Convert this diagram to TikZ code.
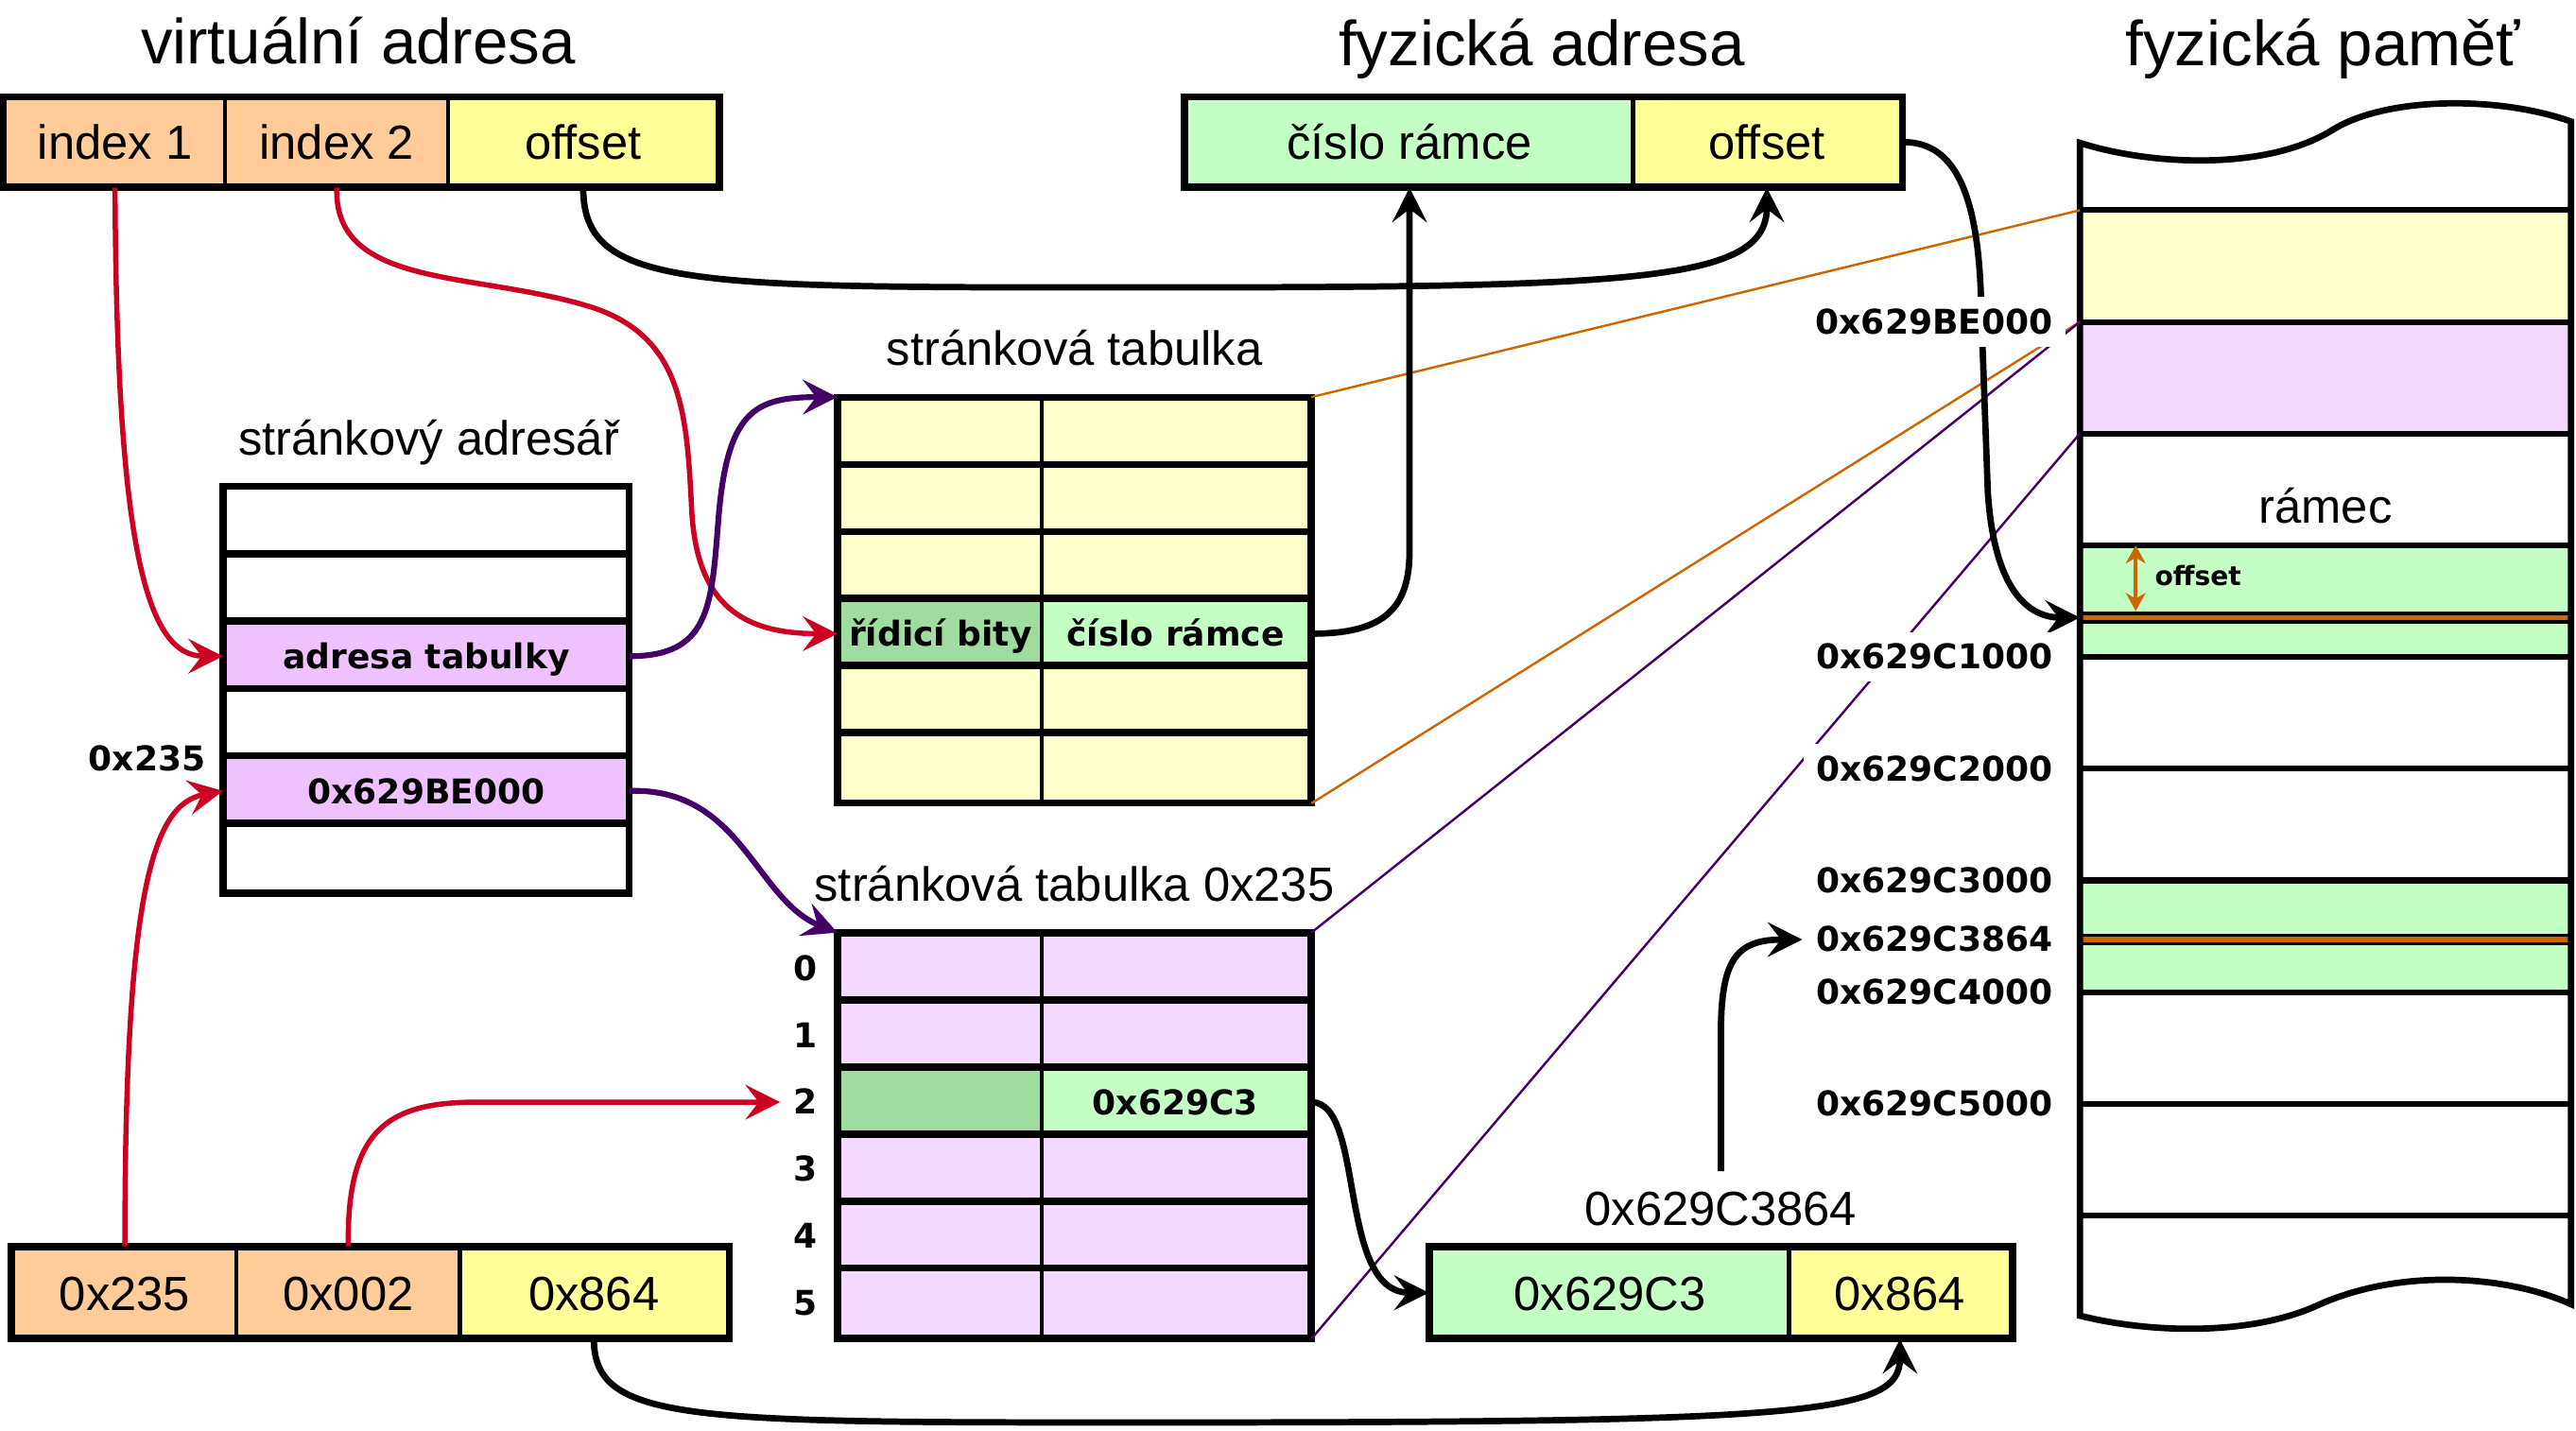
\documentclass[tikz,border=0pt]{standalone}
\usepackage{xcolor}
\usepackage{fontspec}
\setmainfont{Liberation Sans}
\newfontfamily\dvsans{DejaVu Sans}
\usetikzlibrary{arrows.meta}

\definecolor{peach}{HTML}{FFCC99}
\definecolor{lemon}{HTML}{FFFF99}
\definecolor{cream}{HTML}{FFFFCC}
\definecolor{lilac}{HTML}{F3D9FF}
\definecolor{orchid}{HTML}{EEC2FF}
\definecolor{mint}{HTML}{C4FFC4}
\definecolor{sage}{HTML}{A0DCA0}
\definecolor{crimson}{HTML}{CC0022}
\definecolor{plum}{HTML}{440066}
\definecolor{rust}{HTML}{CC6600}

\newcommand\titlefont{\fontsize{11}{13}\selectfont}
\newcommand\midfont{\fontsize{8.3}{10}\selectfont}
\newcommand\lblfont{\dvsans\bfseries\fontsize{5.9}{7}\selectfont}
\newcommand\smallbold{\dvsans\bfseries\fontsize{4.6}{5.5}\selectfont}

\tikzset{
	addrcell/.style={draw, line width=0.7pt, inner sep=0pt, minimum height=0.53cm, font=\midfont, text height=6pt, text depth=0pt},
	tabcell/.style={draw, line width=0.7pt, inner sep=0pt, minimum height=0.408cm, font=\lblfont, text height=4.4pt, text depth=0pt},
	boxframe/.style={line width=1.1pt},
	memline/.style={line width=1pt},
	lbl/.style={font=\lblfont, text height=4.2pt, text depth=0pt, inner sep=2.2pt},
	memlbl/.style={lbl, fill=white, anchor=east},
	ttl/.style={font=\midfont, anchor=base},
	bigttl/.style={font=\titlefont, anchor=base},
	stealthtip/.style={-{Stealth[length=2.1mm,width=2.1mm,inset=0.8mm]}},
	redarr/.style={stealthtip, crimson, line width=0.9pt},
	plumarr/.style={stealthtip, plum, line width=1pt},
	blkarr/.style={stealthtip, black, line width=1.1pt},
	thinline/.style={line width=0.4pt},
}

\begin{document}
\begin{tikzpicture}[x=0.01cm,y=-0.01cm]
	% Parameters
	\def\rowh{40.8}
	\def\dirh{41}
	\def\memL{1266}
	\def\memR{1565}
	\def\frh{68}
	\useasboundingbox (0,0) rectangle (1568,871);
	
	%titles
	\node[bigttl] (tVirt) at (218,39) {virtuální adresa};
	\node[bigttl] (tPhys) at (938.5,40) {fyzická adresa};
	\node[bigttl] (tMem) at (1414,40) {fyzická paměť};
	\node[ttl] (tDir) at (261,277) {stránkový adresář};
	\node[ttl] (tTab) at (654,222.5) {stránková tabulka};
	\node[ttl] (tTab2) at (654,548.5) {stránková tabulka 0x235};
	\node[ttl] (tFin) at (1047.5,745.8) {0x629C3864};
	
	%addresses
	\node[addrcell, fill=peach, minimum width=1.34cm] (idx1) at (70,86.5) {index 1};
	\node[addrcell, fill=peach, minimum width=1.36cm] (idx2) at (205,86.5) {index 2};
	\node[addrcell, fill=lemon, minimum width=1.64cm] (voff) at (355,86.5) {offset};
	\draw[boxframe] (idx1.north west) rectangle (voff.south east);
	
	\node[addrcell, fill=mint, minimum width=2.72cm] (pnum) at (858,86.5) {číslo rámce};
	\node[addrcell, fill=lemon, minimum width=1.63cm] (poff) at (1075.5,86.5) {offset};
	\draw[boxframe] (pnum.north west) rectangle (poff.south east);
	
	\node[addrcell, fill=peach, minimum width=1.36cm, minimum height=0.54cm] (b235) at (76,787) {0x235};
	\node[addrcell, fill=peach, minimum width=1.36cm, minimum height=0.54cm] (b002) at (212,787) {0x002};
	\node[addrcell, fill=lemon, minimum width=1.63cm, minimum height=0.54cm] (boff) at (361.5,787) {0x864};
	\draw[boxframe] (b235.north west) rectangle (boff.south east);
	
	\node[addrcell, fill=mint, minimum width=2.18cm, minimum height=0.54cm] (fnum) at (980,787) {0x629C3};
	\node[addrcell, fill=lemon, minimum width=1.35cm, minimum height=0.54cm] (foff) at (1156.5,787) {0x864};
	\draw[boxframe] (fnum.north west) rectangle (foff.south east);
	
	%directory
	\foreach \i in {0,1,3,5} {
		\node[tabcell, minimum width=2.45cm] (d\i) at (259.5,317.5+\dirh*\i) {};
	}
	\node[tabcell, fill=orchid, minimum width=2.45cm] (d2) at (259.5,317.5+2*\dirh) {adresa tabulky};
	\node[tabcell, fill=orchid, minimum width=2.45cm] (d4) at (259.5,317.5+4*\dirh) {0x629BE000};
	\foreach \i in {1,...,5}
		\draw[boxframe] (d\i.north west) -- (d\i.north east);
	\draw[boxframe] (d0.north west) rectangle (d5.south east);
	\node[lbl] (l235) at (89.5,462) {0x235};
	
	%page table
	\foreach \i in {0,1,2,4,5} {
		\node[tabcell, fill=cream, minimum width=1.23cm] (t1l\i) at (572.5,263.4+\rowh*\i) {};
		\node[tabcell, fill=cream, minimum width=1.63cm] (t1r\i) at (715.5,263.4+\rowh*\i) {};
	}
	\node[tabcell, fill=sage, minimum width=1.23cm] (t1l3) at (572.5,263.4+3*\rowh) {řídicí bity};
	\node[tabcell, fill=mint, minimum width=1.63cm] (t1r3) at (715.5,263.4+3*\rowh) {číslo rámce};
	\foreach \i in {1,...,5}
		\draw[boxframe] (t1l\i.north west) -- (t1r\i.north east);
	\draw[boxframe] (t1l0.north west) rectangle (t1r5.south east);
	
	%page table 0x235
	\foreach \i in {0,1,3,4,5} {
		\node[tabcell, fill=lilac, minimum width=1.23cm] (t2l\i) at (572.5,589.4+\rowh*\i) {};
		\node[tabcell, fill=lilac, minimum width=1.63cm] (t2r\i) at (715.5,589.4+\rowh*\i) {};
	}
	\node[tabcell, fill=sage, minimum width=1.23cm] (t2l2) at (572.5,589.4+2*\rowh) {};
	\node[tabcell, fill=mint, minimum width=1.63cm] (t2r2) at (715.5,589.4+2*\rowh) {0x629C3};
	\foreach \i in {1,...,5}
		\draw[boxframe] (t2l\i.north west) -- (t2r\i.north east);
	\draw[boxframe] (t2l0.north west) rectangle (t2r5.south east);
	\foreach \i in {0,...,5}
		\node[lbl] (n\i) at (490.5,589.4+\rowh*\i) {\i};
	
	%memory
	\coordinate (frTop) at (\memL,128);
	\coordinate (frMid) at (\memL,196);
	\coordinate (frEnd) at (\memL,264);
	\coordinate (hit) at (\memL,376);
	\fill[cream] (\memL,128) rectangle (\memR,196);
	\fill[lilac] (\memL,196) rectangle (\memR,264);
	\fill[mint] (\memL,332) rectangle (\memR,400);
	\fill[mint] (\memL,536) rectangle (\memR,604);
	\foreach \k in {0,...,9}
		\draw[memline] (\memL,128+\frh*\k) -- (\memR,128+\frh*\k);
	\foreach \y in {376,572} {
		\draw[line width=2.1pt] (\memL,\y) -- (\memR,\y);
		\draw[rust, line width=0.9pt] (\memL,\y) -- (\memR,\y);
	}
	\draw[boxframe] (\memL,87) .. controls (1310,101) and (1380,104) .. (1420,79)
		.. controls (1452,59) and (1520,58) .. (\memR,74) -- (\memR,794)
		.. controls (1525,776) and (1460,772) .. (1410,795)
		.. controls (1370,813) and (1310,812) .. (\memL,801) -- cycle;
	\node[ttl] (tFrame) at (1415.5,318.4) {rámec};
	\coordinate (offA) at (1300,332);
	\coordinate (offB) at (1300,372);
	\draw[rust, line width=0.6pt, {Stealth[length=1.1mm,width=1.2mm,inset=0.35mm]}-{Stealth[length=1.1mm,width=1.2mm,inset=0.35mm]}] (offA) -- (offB);
	\node[font=\smallbold, anchor=base west, inner sep=0pt] (tOff) at (1311,356.7) {offset};
	
	%mapping lines
	\draw[thinline, rust] (t1r0.north east) -- (frTop);
	\draw[thinline, rust] (t1r5.south east) -- (frMid);
	\draw[thinline, plum] (t2r0.north east) -- (frMid);
	\draw[thinline, plum] (t2r5.south east) -- (frEnd);
	
	%arrows
	\draw[redarr] (idx1.south) .. controls +(1,217) and +(-47,0) .. (d2.west);
	\draw[redarr] (idx2.south) .. controls +(-2,62) and +(-70,-22) .. (360,187)
		.. controls +(55,18) and +(-3,-60) .. (421,310)
		.. controls +(3,60) and +(-56,0) .. (t1l3.west);
	\draw[redarr] (b235.north) .. controls +(0,-220) and +(-42,8) .. (d4.west);
	\draw[redarr] (b002.north) .. controls +(-1,-70) and +(-55,0) .. (n2.west -| 290,0) -- (n2.west);
	
	\draw[plumarr] (d2.east) .. controls +(48,0) and +(-4,50) .. (437,320)
		.. controls +(5,-70) and +(-51,0) .. (t1l0.north west);
	\draw[plumarr] (d4.east) .. controls +(68,-2) and +(-50,-20) .. (t2l0.north west);
	
	\draw[blkarr] (voff.south) .. controls +(0,62) and +(-280,0) .. (700,175)
		.. controls +(300,0) and +(0,57) .. (poff.south);
	\draw[blkarr] (t1r3.east) .. controls +(45,0) and +(0,35) .. (pnum.south |- 0,335) -- (pnum.south);
	\draw[blkarr] (poff.east) .. controls +(28,0) and +(-1,-80) .. (1206,190) -- (1210,300)
		.. controls +(4,60) and +(-31,0) .. (hit);
	\draw[blkarr] (t2r2.east) .. controls +(33,0) and +(-56,0) .. (fnum.west);
	\draw[blkarr] (boff.south) .. controls +(0,51) and +(-280,0) .. (700,866)
		.. controls +(400,0) and +(0,46) .. (foff.south);
	
	%memory addresses
	\foreach \y/\txt/\nm in {196/0x629BE000/mBE, 400/0x629C1000/m1, 468/0x629C2000/m2, 536/0x629C3000/m3, 572/0x629C3864/mHit, 604/0x629C4000/m4, 672/0x629C5000/m5}
		\node[memlbl] (\nm) at (1258,\y) {\txt};
	
	\draw[blkarr] (tFin.north) -- (tFin.north |- 0,630) .. controls +(0,-45) and +(-41,0) .. (mHit.west);
\end{tikzpicture}
\end{document}
